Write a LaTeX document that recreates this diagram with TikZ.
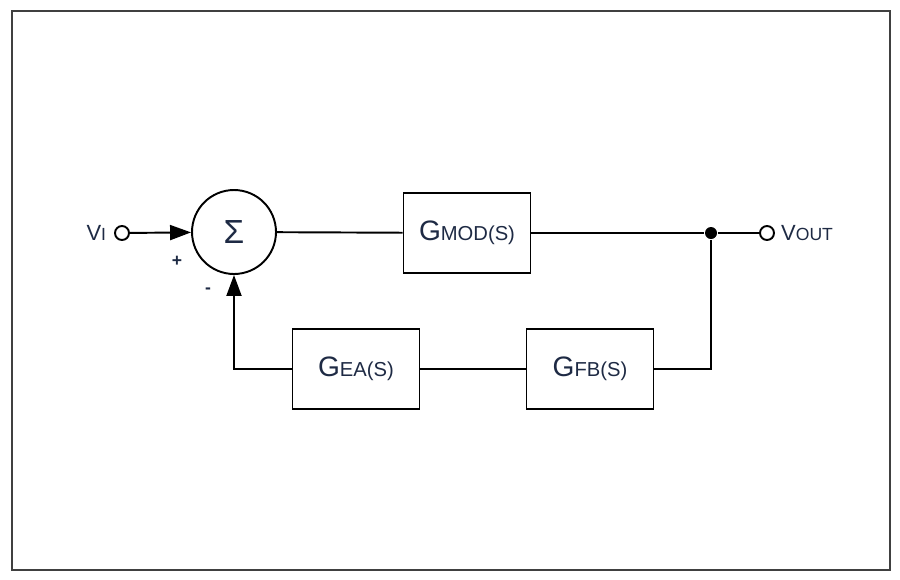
\documentclass[tikz,border=0pt]{standalone}
\usepackage{fontspec}
\setmainfont{Liberation Sans}
\usetikzlibrary{arrows.meta, positioning}
\definecolor{txtcol}{HTML}{1E2A44}
\newcommand{\blk}[2]{{\fontsize{16}{16}\selectfont #1}{\fontsize{11.5}{12}\selectfont #2}}

\begin{document}
\begin{tikzpicture}[x=0.02cm, y=-0.02cm, line width=1.1pt,
    blockbox/.style={draw, minimum width=2.54cm, minimum height=1.6cm, inner sep=0pt, text=txtcol},
    sumnode/.style={draw, circle, minimum size=1.68cm, inner sep=0pt, text=txtcol},
    term/.style={draw, circle, fill=white, minimum size=0.28cm, inner sep=0pt},
    dot/.style={circle, fill=black, minimum size=0.24cm, inner sep=0pt},
    lbl/.style={text=txtcol, inner sep=1pt}]
      \useasboundingbox (0, 0) rectangle (900, 579);
      \draw[line width=1.6pt, black!75] (12, 11) rectangle (890, 570);
      % forward path
      \node[term] (vi) at (122, 233) {};
      \node[sumnode] (sum) at (234, 232) {\fontsize{19}{19}\selectfont Σ};
      \node[blockbox] (gmod) at (467, 233) {\blk{G}{MOD(S)}};
      \node[dot] (junc) at (711, 233) {};
      \node[term] (vout) at (767, 233) {};
      % feedback path
      \node[blockbox] (gea) at (356, 369) {\blk{G}{EA(S)}};
      \node[blockbox] (gfb) at (590, 369) {\blk{G}{FB(S)}};
      \coordinate (fbr) at (711, 369);
      \coordinate (fbl) at (234, 369);
      % labels
      \node[lbl, left=3pt of vi] (vilbl) {{\fontsize{12.5}{13}\selectfont V}{\fontsize{10}{10}\selectfont I}};
      \node[lbl, right=2pt of vout] (voutlbl) {{\fontsize{12.5}{13}\selectfont V}{\fontsize{10}{10}\selectfont OUT}};
      \node[lbl] (plus) at (177, 261) {\fontsize{10}{10}\selectfont\bfseries +};
      \node[lbl] (minus) at (208, 291) {\fontsize{10}{10}\selectfont\bfseries -};
      % connectors
      \draw[-{Triangle[length=0.42cm, width=0.3cm]}] (vi) -- (sum);
      \draw (sum) -- (gmod);
      \draw (gmod) -- (junc);
      \draw (junc) -- (vout);
      \draw (junc) -- (fbr) -- (gfb);
      \draw (gfb) -- (gea);
      \draw[-{Triangle[length=0.42cm, width=0.3cm]}] (gea) -- (fbl) -- (sum);
\end{tikzpicture}
\end{document}
